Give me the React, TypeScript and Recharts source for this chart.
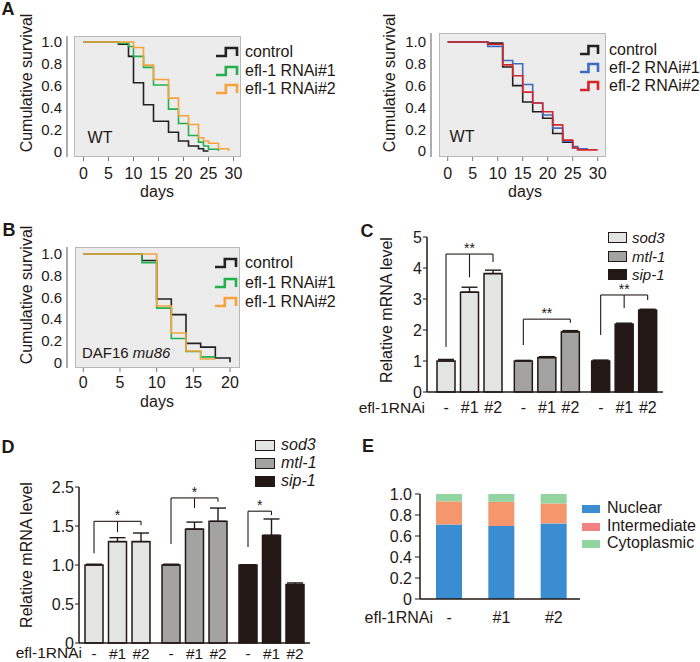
import React from "react";
import { LineChart, Line, XAxis, YAxis, BarChart, Bar, ErrorBar } from "recharts";

const FONT = "'Liberation Sans', Arial, Helvetica, sans-serif";
const INK = "#231815";

// ---------- survival curves, [day, fraction alive]
const wtControlA: [number, number][] = [[0, 1], [7, 0.98], [9, 0.87], [10, 0.63], [12, 0.43], [14, 0.28], [17, 0.18], [19, 0.1], [21, 0.055], [23, 0.03], [24, 0.01], [25, 0.01]];
const wtEfl1R1: [number, number][] = [[0, 1], [7, 0.99], [9, 0.96], [10, 0.87], [12, 0.77], [14, 0.61], [17, 0.39], [19, 0.26], [21, 0.15], [23, 0.09], [24, 0.055], [25, 0.025], [27, 0.01]];
const wtEfl1R2: [number, number][] = [[0, 1], [10, 0.95], [12, 0.79], [14, 0.66], [17, 0.49], [19, 0.33], [21, 0.25], [23, 0.13], [24, 0.1], [25, 0.08], [27, 0.03], [29, 0.01]];

const wtControlB: [number, number][] = [[0, 1], [8, 0.99], [11, 0.77], [13, 0.6], [15, 0.45], [17, 0.36], [19, 0.3], [21, 0.16], [23, 0.08], [25, 0.03], [26, 0.02], [28, 0.02]];
const wtEfl2R1: [number, number][] = [[0, 1], [8, 0.96], [11, 0.83], [13, 0.8], [15, 0.61], [17, 0.44], [19, 0.33], [21, 0.21], [23, 0.09], [25, 0.04], [26, 0.02], [28, 0.02]];
const wtEfl2R2: [number, number][] = [[0, 1], [8, 0.98], [11, 0.79], [13, 0.69], [15, 0.54], [17, 0.44], [19, 0.36], [21, 0.24], [23, 0.1], [25, 0.03], [26, 0.01], [30, 0.01]];

const dafControl: [number, number][] = [[0, 1], [8, 0.94], [10, 0.585], [12, 0.44], [14, 0.175], [16, 0.14], [18, 0.04], [20, 0]];
const dafEfl1R1: [number, number][] = [[0, 1], [8, 0.92], [10, 0.5], [12, 0.22], [14, 0.1], [16, 0.05], [18, 0.05]];
const dafEfl1R2: [number, number][] = [[0, 1], [10, 0.52], [12, 0.27], [14, 0.105], [16, 0.03], [18, 0.03]];

const survTicks = [0, 0.2, 0.4, 0.6, 0.8, 1.0];
const daysTicks30 = [0, 5, 10, 15, 20, 25, 30];
const daysTicks20 = [0, 5, 10, 15, 20];

// ---------- qPCR
const genes = ["sod3", "mtl-1", "sip-1"];
const treatments = ["-", "#1", "#2"];
const geneFill = ["#e3e4e4", "#a3a3a3", INK];

const cControl = [1.0, 1.0, 1.0];
const cRnai1 = [3.22, 1.11, 2.19];
const cRnai2 = [3.82, 1.94, 2.64];
const cErrControl = [0.05, 0.02, 0.03];
const cErrRnai1 = [0.16, 0.03, 0.03];
const cErrRnai2 = [0.11, 0.04, 0.03];
const cBracketTop = [4.45, 2.35, 3.13];
const cBracketLegs = [[1.45, 3.7, 4.19], [1.52, null, 2.23], [1.84, 2.71, 2.97]];
const cStars = ["**", "**", "**"];
const cTicks = [0, 1, 2, 3, 4, 5];

const dControl = [1.0, 1.0, 1.0];
const dRnai1 = [1.3, 1.46, 1.38];
const dRnai2 = [1.3, 1.56, 0.75];
const dErrControl = [0.01, 0.01, 0.0];
const dErrRnai1 = [0.05, 0.09, 0.21];
const dErrRnai2 = [0.11, 0.17, 0.02];
const dBracketTop = [1.56, 1.86, 1.69];
const dBracketLegs = [[1.15, 1.42, 1.51], [1.27, 1.73, 1.81], [1.23, 1.64, null]];
const dStars = ["*", "*", "*"];
const dTicks = [0, 0.5, 1, 1.5, 2];
const dTickLabels = ["0", "0.5", "1.0", "1.5", "2.5"];

// ---------- localisation
const eGroups = ["-", "#1", "#2"];
const nuclear = [0.71, 0.695, 0.72];
const intermediate = [0.22, 0.23, 0.19];
const cytoplasmic = [0.07, 0.075, 0.09];
const eTicks = [0, 0.2, 0.4, 0.6, 0.8, 1.0];

const fmt1 = (v: number) => (v === 0 ? "0" : v.toFixed(1));

type Rect = { l: number; r: number; t: number; b: number };

function Txt({ x, y, children, size = 16, anchor = "middle", rotate = false, bold = false, italic = false }: any) {
  const tx = anchor === "middle" ? "-50%" : anchor === "end" ? "-100%" : "0";
  return (
    <div
      style={{
        position: "absolute",
        left: x,
        top: y,
        transform: `translate(${tx},-50%)${rotate ? " rotate(-90deg)" : ""}`,
        fontSize: size,
        lineHeight: 1,
        fontFamily: FONT,
        fontWeight: bold ? 700 : 400,
        fontStyle: italic ? "italic" : "normal",
        color: INK,
        whiteSpace: "nowrap",
      }}
    >
      {children}
    </div>
  );
}

function StepIcon({ color, w }: { color: string; w: number }) {
  return (
    <svg width={w} height={12} style={{ display: "block" }}>
      <path d={`M1,10 H${w * 0.45} V2 H${w - 2} V10`} fill="none" stroke={color} strokeWidth={2.6} />
    </svg>
  );
}

function SurvLegend({ iconX, textX, ys, items, iconW }: any) {
  return (
    <>
      {items.map((it: any, i: number) => (
        <React.Fragment key={it.label}>
          <div style={{ position: "absolute", left: iconX, top: ys[i] - 6 }}>
            <StepIcon color={it.color} w={iconW} />
          </div>
          <Txt x={textX} y={ys[i]} anchor="start">{it.label}</Txt>
        </React.Fragment>
      ))}
    </>
  );
}

function SurvivalChart({ plot, box, xDomain, xTicks, yDomain, series, labelGap }: any) {
  const yw = 45, xh = 34, m = 4, mt = 12;
  const w = yw + (plot.r - plot.l) + m;
  const h = mt + (plot.b - plot.t) + xh;
  return (
    <>
      <div
        style={{
          position: "absolute",
          left: box.l,
          top: box.t,
          width: box.r - box.l,
          height: box.b - box.t,
          background: "#ececec",
          border: "1px solid #b8b8b8",
          boxSizing: "border-box",
        }}
      />
      <div style={{ position: "absolute", left: plot.l - yw, top: plot.t - mt }}>
        <LineChart width={w} height={h} margin={{ top: mt, right: m, left: 0, bottom: 0 }}>
          <XAxis
            type="number"
            dataKey="d"
            domain={xDomain}
            ticks={xTicks}
            allowDataOverflow
            interval={0}
            height={xh}
            axisLine={false}
            tickLine={{ stroke: "#777" }}
            tickSize={4}
            tickMargin={labelGap}
            tick={{ fontSize: 16, fill: INK, fontFamily: FONT }}
          />
          <YAxis
            type="number"
            domain={yDomain}
            ticks={survTicks}
            allowDataOverflow
            interval={0}
            width={yw}
            axisLine={{ stroke: "#777", strokeWidth: 1.2 }}
            tickLine={false}
            tickSize={3}
            tickMargin={2}
            tickFormatter={fmt1}
            tick={{ fontSize: 15, fill: INK, fontFamily: FONT }}
          />
          {series.map((s: any) => (
            <Line
              key={s.name}
              data={s.pts.map(([d, v]: [number, number]) => ({ d, v }))}
              dataKey="v"
              type="stepAfter"
              stroke={s.color}
              strokeWidth={1.6}
              dot={false}
              isAnimationActive={false}
            />
          ))}
        </LineChart>
      </div>
    </>
  );
}

function makeShape(key: string, si: number, tops: number[], legs: (number | null)[][], stars: string[], pitch: number) {
  return (p: any) => {
    const { x, y, width, height, index, payload } = p;
    const val = payload[key];
    const base = y + height;
    const ppu = height / val;
    const px = (v: number) => base - v * ppu;
    const cx = x + width / 2;
    const gl = legs[index];
    let last = 0;
    gl.forEach((l, j) => {
      if (l != null) last = j;
    });
    const top = px(tops[index]);
    const leg = gl[si];
    return (
      <g>
        <rect x={x} y={y} width={width} height={height} fill={geneFill[index]} stroke={INK} strokeWidth={1.5} />
        {leg != null && <line x1={cx} x2={cx} y1={px(leg)} y2={top} stroke={INK} strokeWidth={1.1} />}
        {si < last && <line x1={cx} x2={cx + pitch} y1={top} y2={top} stroke={INK} strokeWidth={1.1} />}
        {si === 0 && (
          <text x={cx + (last * pitch) / 2} y={top - 1} textAnchor="middle" fontSize={14} fill={INK} fontFamily={FONT}>
            {stars[index]}
          </text>
        )}
      </g>
    );
  };
}

function ExprChart({ plot, yDomain, yTicks, yFmt, vals, errs, tops, legs, stars, barSize, barGap, xPad, labelDy, labelSize }: any) {
  const yw = 45, xh = 40, m = 4, mt = 14;
  const w = yw + (plot.r - plot.l) + m;
  const h = mt + (plot.b - plot.t) + xh;
  const pitch = barSize + barGap;
  const keys = ["c", "a", "b"];
  const data = genes.map((g, i) => ({
    g,
    c: vals[0][i],
    a: vals[1][i],
    b: vals[2][i],
    ec: [0, errs[0][i]],
    ea: [0, errs[1][i]],
    eb: [0, errs[2][i]],
  }));
  const tick = (p: any) => (
    <g>
      {treatments.map((t, j) => (
        <text key={t} x={p.x + (j - 1) * pitch} y={p.y + labelDy} textAnchor="middle" fontSize={labelSize} fill={INK} fontFamily={FONT}>
          {t}
        </text>
      ))}
    </g>
  );
  return (
    <div style={{ position: "absolute", left: plot.l - yw, top: plot.t - mt }}>
      <BarChart width={w} height={h} data={data} barGap={barGap} margin={{ top: mt, right: m, left: 0, bottom: 0 }}>
        <XAxis
          dataKey="g"
          interval={0}
          height={xh}
          padding={{ left: xPad, right: 0 }}
          axisLine={{ stroke: INK, strokeWidth: 1.5 }}
          tickLine={false}
          tickSize={0}
          tickMargin={0}
          tick={tick}
        />
        <YAxis
          type="number"
          domain={yDomain}
          ticks={yTicks}
          interval={0}
          width={yw}
          axisLine={{ stroke: INK, strokeWidth: 1.5 }}
          tickLine={{ stroke: INK }}
          tickSize={4}
          tickMargin={1}
          tickFormatter={yFmt}
          tick={{ fontSize: 16, fill: INK, fontFamily: FONT }}
        />
        {keys.map((k, si) => (
          <Bar key={k} dataKey={k} barSize={barSize} isAnimationActive={false} shape={makeShape(k, si, tops, legs, stars, pitch)}>
            <ErrorBar dataKey={"e" + k} width={8} stroke={INK} strokeWidth={1.4} />
          </Bar>
        ))}
      </BarChart>
    </div>
  );
}

function GeneLegend({ boxX, textX, ys, bw, bh, size }: any) {
  return (
    <>
      {genes.map((g, i) => (
        <React.Fragment key={g}>
          <div
            style={{
              position: "absolute",
              left: boxX,
              top: ys[i] - bh / 2,
              width: bw,
              height: bh,
              background: geneFill[i],
              border: `1.5px solid ${INK}`,
              boxSizing: "border-box",
            }}
          />
          <Txt x={textX} y={ys[i]} anchor="start" italic size={size}>{g}</Txt>
        </React.Fragment>
      ))}
    </>
  );
}

function LocalisationChart() {
  const plot: Rect = { l: 420, r: 580, t: 494, b: 599 };
  const yw = 45, xh = 40, m = 4, mt = 12;
  const data = eGroups.map((k, i) => ({ k, n: nuclear[i], im: intermediate[i], cy: cytoplasmic[i] }));
  return (
    <div style={{ position: "absolute", left: plot.l - yw, top: plot.t - mt }}>
      <BarChart width={yw + (plot.r - plot.l) + m} height={mt + (plot.b - plot.t) + xh} data={data} margin={{ top: mt, right: m, left: 0, bottom: 0 }}>
        <XAxis
          dataKey="k"
          interval={0}
          height={xh}
          padding={{ left: 3, right: 0 }}
          axisLine={{ stroke: INK, strokeWidth: 1.5 }}
          tickLine={false}
          tickSize={0}
          tickMargin={13}
          tick={{ fontSize: 16, fill: INK, fontFamily: FONT }}
        />
        <YAxis
          type="number"
          domain={[0, 1]}
          ticks={eTicks}
          interval={0}
          width={yw}
          axisLine={{ stroke: INK, strokeWidth: 1.5 }}
          tickLine={{ stroke: INK }}
          tickSize={5}
          tickMargin={3}
          tickFormatter={fmt1}
          tick={{ fontSize: 16, fill: INK, fontFamily: FONT }}
        />
        <Bar dataKey="n" stackId="s" fill="#3a8dd1" barSize={26} isAnimationActive={false} />
        <Bar dataKey="im" stackId="s" fill="#f6966c" barSize={26} isAnimationActive={false} />
        <Bar dataKey="cy" stackId="s" fill="#92d5a0" barSize={26} isAnimationActive={false} />
      </BarChart>
    </div>
  );
}

export default function App() {
  const efl1Items = [
    { label: "control", color: "#222222" },
    { label: "efl-1 RNAi#1", color: "#22b14c" },
    { label: "efl-1 RNAi#2", color: "#f8a23a" },
  ];
  const efl2Items = [
    { label: "control", color: "#222222" },
    { label: "efl-2 RNAi#1", color: "#3d6cc0" },
    { label: "efl-2 RNAi#2", color: "#d6252a" },
  ];
  const eLegend = [
    { label: "Nuclear", color: "#3a8dd1" },
    { label: "Intermediate", color: "#f28282" },
    { label: "Cytoplasmic", color: "#92d5a0" },
  ];
  const eLegendYs = [509, 527, 544];

  return (
    <div style={{ position: "absolute", left: 0, top: 0, width: 700, height: 662, background: "#fff", overflow: "hidden", fontFamily: FONT }}>
      {/* A left */}
      <SurvivalChart
        plot={{ l: 67, r: 241, t: 36, b: 157 }}
        box={{ l: 74, r: 241, t: 36, b: 157 }}
        xDomain={[-3.3, 31.5]}
        xTicks={daysTicks30}
        yDomain={[-0.045, 1.055]}
        labelGap={7}
        series={[
          { name: "c", pts: wtControlA, color: efl1Items[0].color },
          { name: "r1", pts: wtEfl1R1, color: efl1Items[1].color },
          { name: "r2", pts: wtEfl1R2, color: efl1Items[2].color },
        ]}
      />
      <SurvLegend iconX={215} textX={245} ys={[52, 71, 89]} items={efl1Items} iconW={24} />
      <Txt x={100} y={138}>WT</Txt>
      <Txt x={27} y={83} rotate>Cumulative survival</Txt>
      <Txt x={157} y={192}>days</Txt>

      {/* A right */}
      <SurvivalChart
        plot={{ l: 431, r: 606, t: 33, b: 157 }}
        box={{ l: 439, r: 606, t: 33, b: 157 }}
        xDomain={[-3.34, 31.66]}
        xTicks={daysTicks30}
        yDomain={[-0.055, 1.0826]}
        labelGap={7}
        series={[
          { name: "c", pts: wtControlB, color: efl2Items[0].color },
          { name: "r1", pts: wtEfl2R1, color: efl2Items[1].color },
          { name: "r2", pts: wtEfl2R2, color: efl2Items[2].color },
        ]}
      />
      <SurvLegend iconX={579} textX={609} ys={[50, 68, 86]} items={efl2Items} iconW={21} />
      <Txt x={462} y={137}>WT</Txt>
      <Txt x={390} y={83} rotate>Cumulative survival</Txt>
      <Txt x={525} y={192}>days</Txt>

      {/* B */}
      <SurvivalChart
        plot={{ l: 67, r: 240, t: 247, b: 368 }}
        box={{ l: 75, r: 240, t: 247, b: 368 }}
        xDomain={[-2.222, 21.363]}
        xTicks={daysTicks20}
        yDomain={[-0.0526, 1.0646]}
        labelGap={5}
        series={[
          { name: "c", pts: dafControl, color: efl1Items[0].color },
          { name: "r1", pts: dafEfl1R1, color: efl1Items[1].color },
          { name: "r2", pts: dafEfl1R2, color: efl1Items[2].color },
        ]}
      />
      <SurvLegend iconX={214} textX={245} ys={[263, 283, 302]} items={efl1Items} iconW={24} />
      <Txt x={82} y={352} anchor="start" size={15}>
        DAF16 <i>mu86</i>
      </Txt>
      <Txt x={27} y={295} rotate>Cumulative survival</Txt>
      <Txt x={157} y={402}>days</Txt>

      {/* C */}
      <ExprChart
        plot={{ l: 427, r: 663, t: 237, b: 392 }}
        yDomain={[0, 5]}
        yTicks={cTicks}
        yFmt={(v: number) => String(v)}
        vals={[cControl, cRnai1, cRnai2]}
        errs={[cErrControl, cErrRnai1, cErrRnai2]}
        tops={cBracketTop}
        legs={cBracketLegs}
        stars={cStars}
        barSize={18}
        barGap={5.5}
        xPad={4}
        labelDy={21}
        labelSize={16}
      />
      <GeneLegend boxX={608} textX={632} ys={[237, 256, 274]} bw={19} bh={11} size={15} />
      <Txt x={387} y={310} rotate>Relative mRNA level</Txt>
      <Txt x={425} y={408} anchor="end" size={15.5}>efl-1RNAi</Txt>

      {/* D */}
      <ExprChart
        plot={{ l: 79, r: 310, t: 487, b: 643 }}
        yDomain={[0, 2]}
        yTicks={dTicks}
        yFmt={(v: number) => dTickLabels[dTicks.indexOf(v)]}
        vals={[dControl, dRnai1, dRnai2]}
        errs={[dErrControl, dErrRnai1, dErrRnai2]}
        tops={dBracketTop}
        legs={dBracketLegs}
        stars={dStars}
        barSize={18}
        barGap={5.5}
        xPad={0}
        labelDy={16}
        labelSize={15.5}
      />
      <GeneLegend boxX={255} textX={281} ys={[445, 463, 481]} bw={20} bh={11} size={16} />
      <Txt x={27} y={555} rotate>Relative mRNA level</Txt>
      <Txt x={82} y={653} anchor="end" size={15.5}>efl-1RNAi</Txt>

      {/* E */}
      <LocalisationChart />
      {eLegend.map((it, i) => (
        <React.Fragment key={it.label}>
          <div style={{ position: "absolute", left: 582, top: eLegendYs[i] - 4, width: 18, height: 8, background: it.color }} />
          <Txt x={607} y={eLegendYs[i] - 1} anchor="start">{it.label}</Txt>
        </React.Fragment>
      ))}
      <Txt x={433} y={618} anchor="end">efl-1RNAi</Txt>

      {/* panel letters */}
      <Txt x={8} y={9} bold size={18}>A</Txt>
      <Txt x={9} y={230} bold size={18}>B</Txt>
      <Txt x={367} y={231} bold size={18}>C</Txt>
      <Txt x={8} y={447} bold size={18}>D</Txt>
      <Txt x={368} y={446} bold size={18}>E</Txt>
    </div>
  );
}
